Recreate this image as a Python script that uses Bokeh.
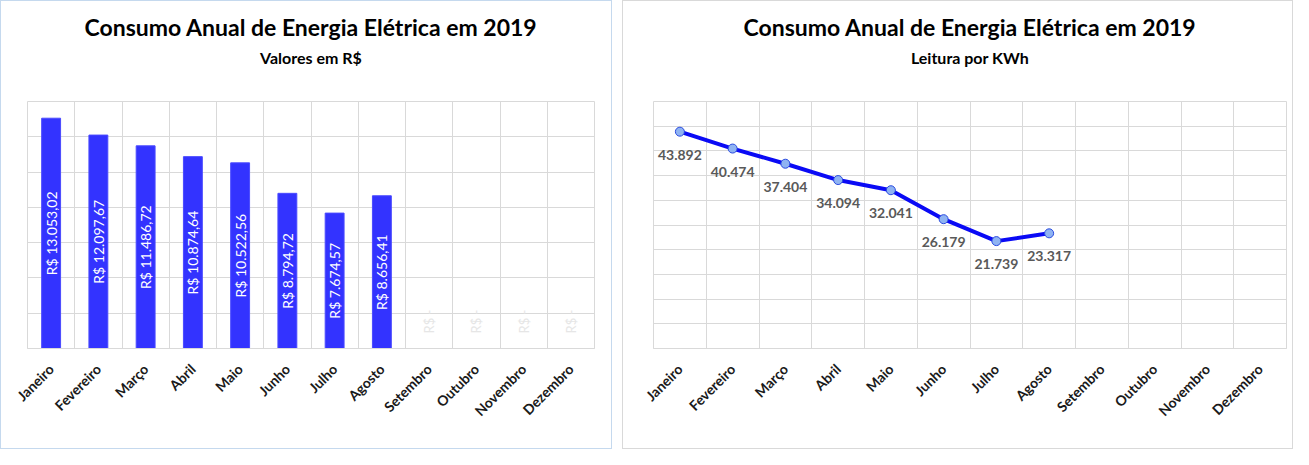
import math
from bokeh.plotting import figure
from bokeh.models import Range1d, FixedTicker, Title
from bokeh.layouts import row
from bokeh.core.properties import value
from bokeh.embed import file_html
from bokeh.resources import INLINE

# ---------------- data ----------------
meses = ["Janeiro", "Fevereiro", "Março", "Abril", "Maio", "Junho",
         "Julho", "Agosto", "Setembro", "Outubro", "Novembro", "Dezembro"]
valores_rs = [13053.02, 12097.67, 11486.72, 10874.64, 10522.56, 8794.72,
              7674.57, 8656.41, 0, 0, 0, 0]
leitura_kwh = [43892, 40474, 37404, 34094, 32041, 26179, 21739, 23317]

titulo = "Consumo Anual de Energia Elétrica em 2019"
subtitulo_rs = "Valores em R$"
subtitulo_kwh = "Leitura por KWh"
eixo_rs = [0, 2000, 4000, 6000, 8000, 10000, 12000, 14000]
eixo_kwh = [0, 5000, 10000, 15000, 20000, 25000, 30000, 35000, 40000, 45000, 50000]

FONT = "Lato"


def fmt_br(v, dec):
    s = f"{v:,.{dec}f}"
    return s.replace(",", "X").replace(".", ",").replace("X", ".")


def base_fig(width, min_left, min_right, ticks, subtitle, border_color):
    p = figure(width=width, height=449,
               x_range=Range1d(0, len(meses)), y_range=Range1d(ticks[0], ticks[-1]),
               output_backend="svg", toolbar_location=None, title_location=None,
               min_border_left=min_left, min_border_right=min_right,
               min_border_top=100, min_border_bottom=102)
    p.background_fill_color = "white"
    p.border_fill_color = "white"
    p.outline_line_color = "#d9d9d9"
    p.yaxis.visible = False
    p.xaxis.ticker = FixedTicker(ticks=[i + 0.5 for i in range(len(meses))])
    p.xaxis.major_label_overrides = {i + 0.5: m for i, m in enumerate(meses)}
    p.xaxis.major_label_orientation = math.pi / 4
    p.xaxis.major_label_text_font = FONT
    p.xaxis.major_label_text_font_style = "bold"
    p.xaxis.major_label_text_font_size = "14px"
    p.xaxis.major_label_text_color = "#1a1a1a"
    p.xaxis.major_label_standoff = 12
    p.xaxis.major_tick_line_color = None
    p.xaxis.minor_tick_line_color = None
    p.xaxis.axis_line_color = "#d9d9d9"
    p.xgrid.ticker = FixedTicker(ticks=list(range(len(meses) + 1)))
    p.ygrid.ticker = FixedTicker(ticks=ticks)
    p.xgrid.grid_line_color = "#d9d9d9"
    p.ygrid.grid_line_color = "#d9d9d9"
    # spacer between plot area and subtitle
    p.add_layout(Title(text=" ", align="center", text_font=FONT,
                       text_font_size="10px", standoff=18), "above")
    p.add_layout(Title(text=subtitle, align="center", text_font=FONT,
                       text_font_size="16px", text_font_style="bold",
                       text_color="#000000", standoff=6), "above")
    p.add_layout(Title(text=titulo, align="center", text_font=FONT,
                       text_font_size="23px", text_font_style="bold",
                       text_color="#000000", standoff=4), "above")
    p.styles = {"border": f"1px solid {border_color}"}
    return p


# ---------------- left: bars ----------------
p1 = base_fig(612, 26, 19, eixo_rs, subtitulo_rs, "#c5d9ee")
xs = [i + 0.5 for i in range(len(meses))]
p1.vbar(x=xs, top=valores_rs, width=0.4, fill_color="#3333ff", line_color="#4a4aff")

pos_x = [x for x, v in zip(xs, valores_rs) if v > 0]
pos_y = [v / 2 for v in valores_rs if v > 0]
pos_t = ["R$ " + fmt_br(v, 2) for v in valores_rs if v > 0]
p1.text(x=pos_x, y=pos_y, text=pos_t, angle=math.pi / 2,
        text_align="center", text_baseline="middle", text_color="white",
        text_font=value(FONT), text_font_size="14px")

zero_x = [x for x, v in zip(xs, valores_rs) if v == 0]
zero_y = [v for v in valores_rs if v == 0]
zero_t = ["R$ -" for v in valores_rs if v == 0]
p1.text(x=zero_x, y=zero_y, text=zero_t, angle=math.pi / 2,
        text_align="left", text_baseline="middle", text_color="#e6e6e6",
        y_offset=-15, text_font=value(FONT), text_font_size="13px")

# ---------------- right: line ----------------
p2 = base_fig(671, 30, 8, eixo_kwh, subtitulo_kwh, "#d9d9d9")
xk = xs[:len(leitura_kwh)]
p2.line(x=xk, y=leitura_kwh, line_width=4, line_color="#0a0af5", line_join="round")
p2.scatter(x=xk, y=leitura_kwh, size=9, marker="circle",
           fill_color="#8fb3f2", line_color="#2a4be0", line_width=1)
p2.text(x=xk, y=leitura_kwh, text=[fmt_br(v, 0) for v in leitura_kwh],
        text_align="center", text_baseline="middle", y_offset=23,
        text_color="#595959", text_font=value(FONT), text_font_style="bold",
        text_font_size="14px")

layout = row(p1, p2, spacing=10)
open("out.html", "w").write(file_html(layout, INLINE))
